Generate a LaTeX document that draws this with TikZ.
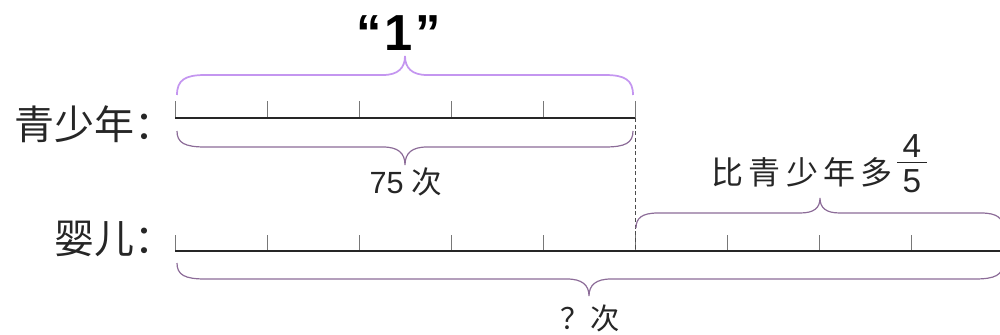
\documentclass[tikz,border=0pt]{standalone}
\usepackage{fontspec}
\setmainfont{Liberation Sans}
\newfontfamily\cjk{Noto Sans CJK SC}
\definecolor{lightpurple}{RGB}{196,150,240}
\definecolor{darkpurple}{RGB}{140,108,152}
\definecolor{tickgray}{RGB}{120,120,120}
\begin{document}
\begin{tikzpicture}[x=0.75pt,y=-0.75pt,
  axisline/.style={line width=1.6pt,black!85},
  tickline/.style={line width=0.5pt,tickgray},
  bracelight/.style={line width=1.3pt,lightpurple},
  bracedark/.style={line width=0.9pt,darkpurple},
  guide/.style={line width=0.5pt,black!70,dash pattern=on 3pt off 2pt},
  lbl/.style={inner sep=0pt,font=\cjk\fontsize{30}{33}\selectfont,text=black!85},
  txt/.style={inner sep=0pt,text=black!85},
  fracdigit/.style={inner sep=0pt,text=black!85,font=\fontsize{25}{27}\selectfont}]
\useasboundingbox (0,0) rectangle (1000,335);

% line coordinates
\coordinate (yA) at (175,118);
\coordinate (yB) at (635,118);
\coordinate (bA) at (175,251);
\coordinate (bM) at (635,251);
\coordinate (bB) at (1003,251);

% labels
\node[lbl,anchor=east] (ylabel) at (175,124) {青少年：};
\node[lbl,anchor=east] (blabel) at (175,239) {婴儿：};

% ticks
\foreach \i in {0,...,5}
  \draw[tickline] (175+92*\i,118) -- (175+92*\i,101);
\foreach \i in {0,...,9}
  \draw[tickline] (175+92*\i,251) -- (175+92*\i,235);

% main lines
\draw[axisline] (yA) -- (yB);
\draw[axisline] (bA) -- (bB);

% dashed guide
\draw[guide] (yB) -- (bM);

% brace above youth
\draw[bracelight] (177,95) .. controls (177,80) and (185,75) .. (205,75) -- (383,75)
  .. controls (398,75) and (405,68) .. (405,56)
  .. controls (405,68) and (412,75) .. (427,75) -- (605,75)
  .. controls (625,75) and (633,80) .. (633,95);
\node[txt,font=\bfseries\fontsize{38}{40}\selectfont,text=black] (one) at (399,33) {“\kern2pt1\kern2pt”};

% brace below youth
\draw[bracedark] (177,131) .. controls (177,143) and (185,147) .. (205,147) -- (383,147)
  .. controls (398,147) and (405,153) .. (405,165)
  .. controls (405,153) and (412,147) .. (427,147) -- (605,147)
  .. controls (625,147) and (633,143) .. (633,131);
\node[txt,font=\fontsize{23}{25}\selectfont] (n75) at (406,182) {75\hspace{6pt}{\cjk 次}};

% brace above baby extra part
\draw[bracedark] (636,228) .. controls (636,218) and (642,213) .. (658,213) -- (800,213)
  .. controls (814,213) and (820,208) .. (820,198)
  .. controls (820,208) and (826,213) .. (840,213) -- (981,213)
  .. controls (997,213) and (1003,218) .. (1003,228);
\node[txt,anchor=east,font=\cjk\fontsize{24}{26}\selectfont] (more) at (893,172) {比\,青\,少\,年\,多};
\node[fracdigit] (num) at (912,146) {4};
\node[fracdigit] (den) at (912,181) {5};
\draw[line width=1.4pt,black!85] (897,162.5) -- (927,162.5);

% brace below baby
\draw[bracedark] (177,263) .. controls (177,275) and (185,279) .. (205,279) -- (567,279)
  .. controls (582,279) and (589,285) .. (589,296)
  .. controls (589,285) and (596,279) .. (611,279) -- (975,279)
  .. controls (995,279) and (1003,275) .. (1003,263);
\node[txt,font=\cjk\fontsize{22}{24}\selectfont] (q) at (590,318) {？次};
\end{tikzpicture}
\end{document}
